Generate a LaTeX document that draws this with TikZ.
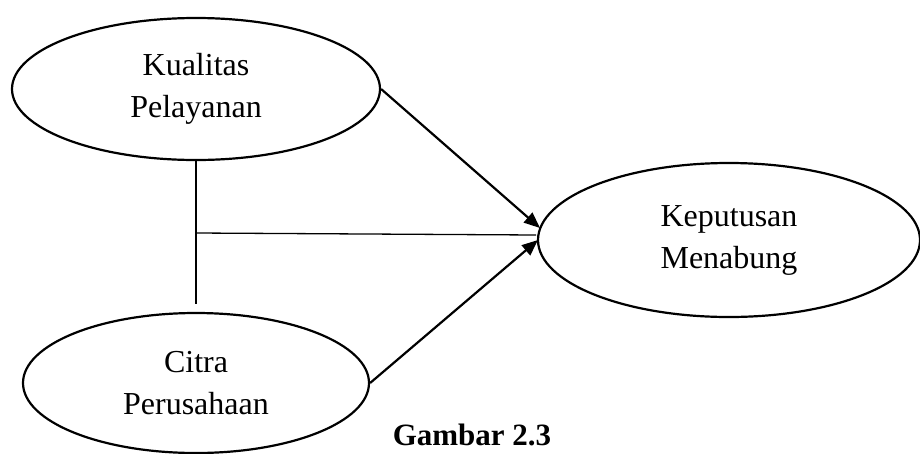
\documentclass[tikz,border=0pt]{standalone}
\usepackage{fontspec}
\setmainfont{Liberation Serif}
\usetikzlibrary{shapes.geometric,arrows.meta,calc}
\tikzset{
  var/.style={draw, line width=2.2pt, ellipse, inner sep=0pt, align=center,
    font=\fontsize{32}{42}\selectfont},
  arr/.style={line width=2.2pt, -{Triangle[length=16pt,width=13pt]}},
  thin/.style={line width=1.3pt}
}
\begin{document}
\begin{tikzpicture}[x=1pt,y=-1pt]
\useasboundingbox (0,0) rectangle (920,453);
\node[var, minimum width=368pt, minimum height=142pt] (K) at (196,89) {Kualitas\\Pelayanan};
\node[var, minimum width=382pt, minimum height=154pt] (M) at (729,240) {Keputusan\\Menabung};
\node[var, minimum width=346pt, minimum height=140pt] (C) at (196,383) {Citra\\Perusahaan};
\node[font=\fontsize{31}{36}\selectfont\bfseries, anchor=base, inner sep=0pt] (G) at (472,445) {Gambar 2.3};
\coordinate (vb) at (196,304);
\coordinate (vm) at (196,233);
\coordinate (t1) at (540,228);
\coordinate (t2) at (538,240);
\coordinate (t3) at (536,235);
\draw[thin] (K.south) -- (vb);
\draw[thin] (vm) -- (t3);
\draw[arr] (K.east) -- (t1);
\draw[arr] (C.east) -- (t2);
\end{tikzpicture}
\end{document}
